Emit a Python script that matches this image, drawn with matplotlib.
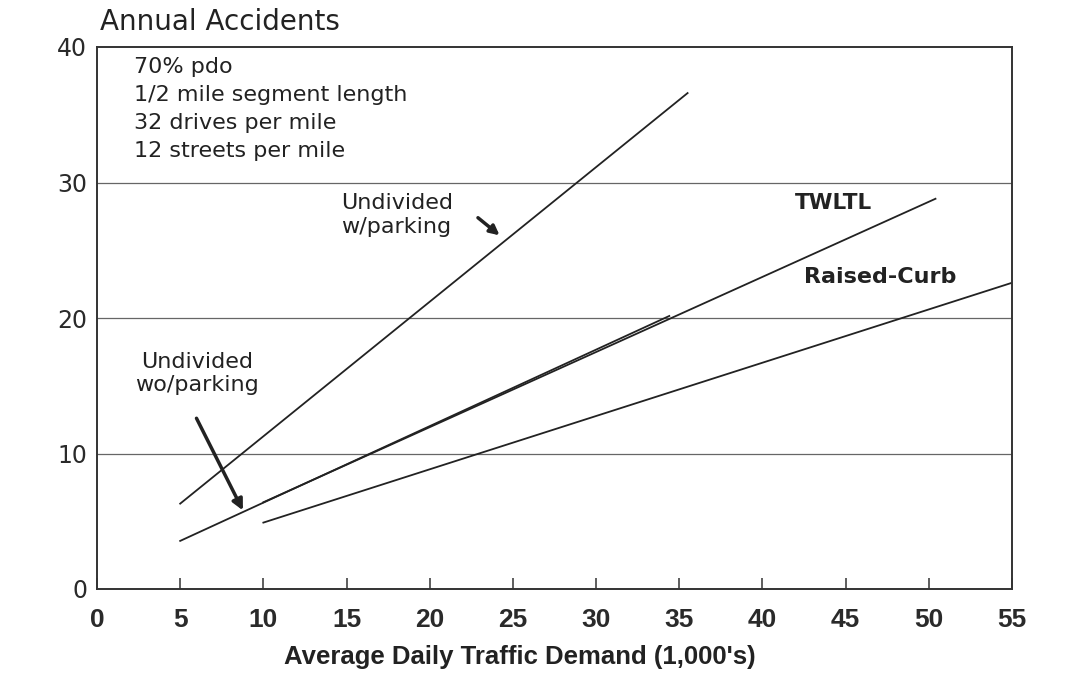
import matplotlib
matplotlib.use('Agg')
import matplotlib.pyplot as plt
from matplotlib import font_manager

# accident lines (ADT in 1000s, accidents/year)
wpark_x = [5.0, 35.5]
wpark_y = [6.3, 36.6]
wopark_x = [5.0, 34.4]
wopark_y = [3.55, 20.15]
twltl_x = [10.0, 50.4]
twltl_y = [6.4, 28.8]
curb_x = [10.0, 55.0]
curb_y = [4.9, 22.6]

x_ticks = [0, 5, 10, 15, 20, 25, 30, 35, 40, 45, 50, 55]
y_ticks = [0, 10, 20, 30, 40]
grid_y = [10, 20, 30]
notes = ['70% pdo', '1/2 mile segment length', '32 drives per mile', '12 streets per mile']

INK = '#222222'

names = {f.name for f in font_manager.fontManager.ttflist}
narrow = 'Liberation Sans Narrow' if 'Liberation Sans Narrow' in names else 'Liberation Sans'

fig = plt.figure(figsize=(10.78, 6.89), dpi=100)
ax = fig.add_axes([97 / 1078, 1 - 589 / 689, (1012 - 97) / 1078, (589 - 47) / 689])

for gy in grid_y:
    ax.axhline(gy, color='#666666', lw=0.9, zorder=1)

lw = 1.3
ax.plot(wpark_x, wpark_y, color=INK, lw=lw)
ax.plot(wopark_x, wopark_y, color=INK, lw=lw)
ax.plot(twltl_x, twltl_y, color=INK, lw=lw)
ax.plot(curb_x, curb_y, color=INK, lw=lw)

ax.set_xlim(0, 55)
ax.set_ylim(0, 40)
for s in ax.spines.values():
    s.set_color('#333333')
    s.set_linewidth(1.4)

ax.set_xticks(x_ticks)
ax.set_xticklabels([str(v) for v in x_ticks], family=narrow, fontsize=19,
                   fontweight='bold', color='#2a2a2a')
ax.tick_params(axis='x', direction='in', length=8, width=1.1, color='#333333', pad=14)
ax.set_yticks(y_ticks)
ax.set_yticklabels([str(v) for v in y_ticks], family='DejaVu Sans', fontsize=17,
                   color='#2a2a2a')
ax.tick_params(axis='y', length=0, pad=7)

# notes block, top left inside the frame
for i, t in enumerate(notes):
    ax.text(2.2, 38.5 - i * 2.07, t, fontsize=16, color=INK, va='center', ha='left')

ax.text(14.7, 27.6, 'Undivided\nw/parking', fontsize=16, color=INK, ha='left',
        va='center', linespacing=1.2)
ax.annotate('', xy=(24.2, 26.1), xytext=(22.9, 27.4),
            arrowprops=dict(arrowstyle='-|>', color=INK, lw=2.5, mutation_scale=14,
                            shrinkA=0, shrinkB=0))

ax.text(6.0, 15.9, 'Undivided\nwo/parking', fontsize=16, color=INK, ha='center',
        va='center', linespacing=1.2)
ax.annotate('', xy=(8.77, 5.8), xytext=(5.98, 12.6),
            arrowprops=dict(arrowstyle='-|>', color=INK, lw=2.5, mutation_scale=16,
                            shrinkA=0, shrinkB=0))

ax.text(44.3, 28.5, 'TWLTL', fontsize=15.5, fontweight='bold', color=INK,
        ha='center', va='center')
ax.text(47.1, 23.0, 'Raised-Curb', fontsize=16, fontweight='bold', color=INK,
        ha='center', va='center')

fig.text(100 / 1078, 1 - 22 / 689, 'Annual Accidents', fontsize=20, color=INK,
         ha='left', va='center')
fig.text(520 / 1078, 1 - 657 / 689, "Average Daily Traffic Demand (1,000's)",
         family=narrow, fontsize=18.5, fontweight='bold', color=INK,
         ha='center', va='center')

fig.savefig('out.png', dpi=100)
